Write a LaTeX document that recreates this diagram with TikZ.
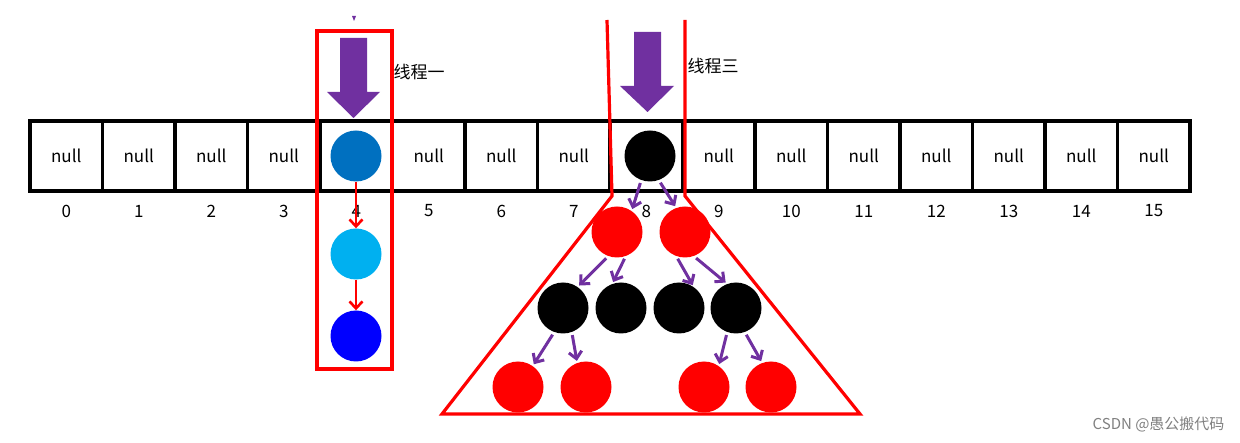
\documentclass[tikz,border=0pt]{standalone}
\usepackage{fontspec}
\setmainfont{Noto Sans CJK SC}
\usetikzlibrary{arrows.meta}
\definecolor{pur}{HTML}{7030A0}
\definecolor{blueA}{HTML}{0070C0}
\definecolor{blueB}{HTML}{00B0F0}
\begin{document}
\begin{tikzpicture}[x=1pt,y=-1pt,
  cell/.style={draw,line width=3.5pt,minimum width=72.5pt,minimum height=70pt,inner sep=0,font=\fontsize{17}{19}\selectfont},
  idx/.style={font=\fontsize{17}{19}\selectfont},
  ball/.style={circle,minimum size=51pt,inner sep=0},
  parr/.style={draw=pur,line width=3pt,shorten <=3pt,shorten >=2pt,-{Straight Barb[length=7pt,width=13pt]}},
  rarr/.style={draw=red,line width=2.6pt,-{Straight Barb[length=7pt,width=13pt]}},
  bigarr/.style={fill=pur},
  frame/.style={draw=red,line width=3.2pt}]
\useasboundingbox (0,0) rectangle (1240,443);
\foreach \i in {0,...,15}{
  \pgfmathsetmacro\cx{30+72.5*\i+36.25}
  \node[cell] (c\i) at (\cx,156) {\ifnum\i=4\else\ifnum\i=8\else null\fi\fi};
  \node[idx] (i\i) at (\cx,211) {\i};
}
% thread one
\draw[frame] (317,31) rectangle (392,369);
\fill[bigarr] (340,38) -- (367,38) -- (367,92) -- (380,92) -- (353.5,118) -- (327,92) -- (340,92) -- cycle;
\fill[pur] (352,16) -- (356,16) -- (354,21) -- cycle;
\node[anchor=west,font=\fontsize{17}{19}\selectfont] (t1) at (390,72) {线程一};
\node[ball,fill=blueA] (a1) at (356,156) {};
\node[ball,fill=blueB] (a2) at (356,254) {};
\node[ball,fill=blue] (a3) at (356,336) {};
\draw[rarr] (a1) -- (a2);
\draw[rarr] (a2) -- (a3);
% thread three
\draw[frame,line join=miter] (607,20) -- (612,196) -- (442,414) -- (860,414) -- (685,196) -- (685,20);
\fill[bigarr] (634,32) -- (661,32) -- (661,86) -- (674,86) -- (647.5,112) -- (620,86) -- (634,86) -- cycle;
\node[anchor=west,font=\fontsize{17}{19}\selectfont] (t3) at (684,66) {线程三};
\node[ball,fill=black] (r) at (650,156) {};
\node[ball,fill=red] (l1) at (617,232) {};
\node[ball,fill=red] (l2) at (685,232) {};
\node[ball,fill=black] (m1) at (563,308) {};
\node[ball,fill=black] (m2) at (621,308) {};
\node[ball,fill=black] (m3) at (679,308) {};
\node[ball,fill=black] (m4) at (736,308) {};
\node[ball,fill=red] (b1) at (518,387) {};
\node[ball,fill=red] (b2) at (586,387) {};
\node[ball,fill=red] (b3) at (704,387) {};
\node[ball,fill=red] (b4) at (771,387) {};
\foreach \p/\a/\b in {r/l1/l2, l1/m1/m2, l2/m3/m4, m1/b1/b2, m4/b3/b4}{
  \draw[parr] (\p.-110) -- (\a.55);
  \draw[parr] (\p.-70) -- (\b.110);
}
\node[anchor=east,text=gray,font=\fontsize{15}{17}\selectfont] (wm) at (1228,424) {CSDN @愚公搬代码};
\end{tikzpicture}
\end{document}
